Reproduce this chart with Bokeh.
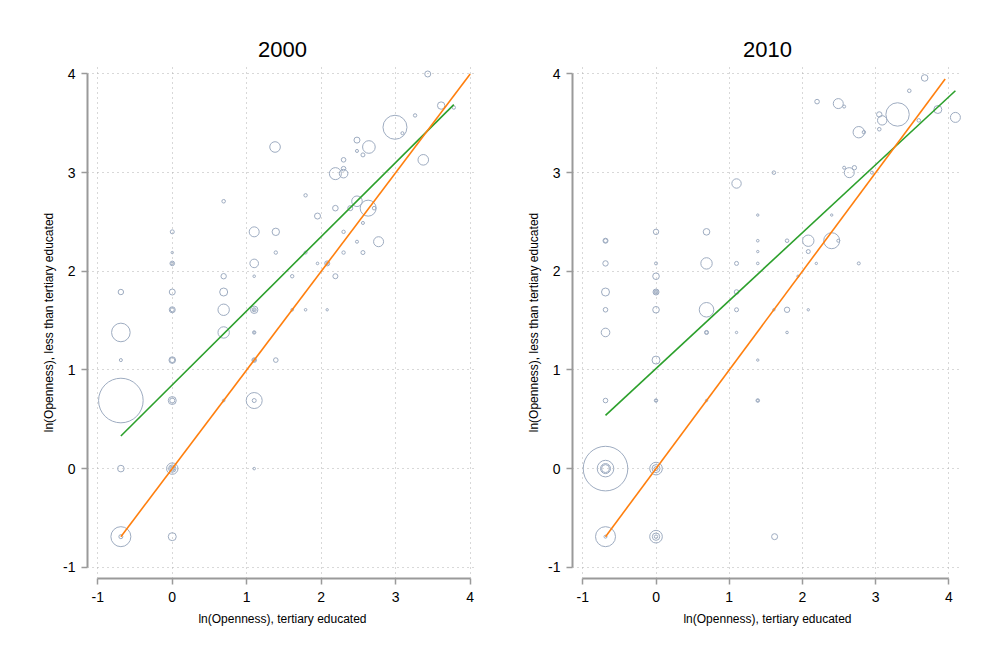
import numpy as np
from bokeh.plotting import figure
from bokeh.layouts import row
from bokeh.models import Range1d, FixedTicker, ColumnDataSource
from bokeh.embed import file_html
from bokeh.resources import INLINE

# ---------------- data: year 2000 ----------------
x_2000 = [3.43, 3.61, 3.78, 3.26, 2.99, 3.09, 3.37, 2.48, 2.48, 2.64,
          2.56, 2.30, 2.30, 2.19, 2.30, 1.38, 1.79, 0.69, 2.48, 2.63,
          2.71, 2.39, 2.19, 1.95, 2.56, 2.30, 2.77, 2.48, 2.56, 2.30,
          1.79, 1.39, 1.10, 1.39, 0.00, 0.00, 0.00, 0.00, 1.10, 1.95,
          2.08, 2.08, 0.69, 1.10, 1.61, 2.19, -0.69, 0.00, 0.69, 0.00,
          0.00, 0.69, 1.10, 1.10, 1.10, 1.61, 1.79, 2.08, -0.69, 0.69,
          1.10, 1.10, -0.69, 0.00, 0.00, 1.10, 1.10, 1.39, -0.69, 0.00,
          0.00, 0.69, 1.10, 1.10, -0.69, 0.00, 0.00, 0.00, 0.00, 1.10,
          -0.69, -0.69, 0.00]
y_2000 = [4.00, 3.68, 3.66, 3.58, 3.46, 3.40, 3.13, 3.33, 3.22, 3.26,
          3.18, 3.13, 3.04, 2.99, 2.99, 3.26, 2.77, 2.71, 2.71, 2.64,
          2.64, 2.64, 2.64, 2.56, 2.49, 2.40, 2.30, 2.30, 2.19, 2.19,
          2.19, 2.19, 2.40, 2.40, 2.40, 2.19, 2.08, 2.08, 2.08, 2.08,
          2.08, 2.08, 1.95, 1.95, 1.95, 1.95, 1.79, 1.79, 1.79, 1.61,
          1.61, 1.61, 1.61, 1.61, 1.61, 1.61, 1.61, 1.61, 1.38, 1.38,
          1.38, 1.38, 1.10, 1.10, 1.10, 1.10, 1.10, 1.10, 0.69, 0.69,
          0.69, 0.69, 0.69, 0.69, 0.00, 0.00, 0.00, 0.00, 0.00, 0.00,
          -0.69, -0.69, -0.69]
w_2000 = [9, 13.7, 2.9, 2.9, 144, 2.3, 28, 9, 2.3, 40,
          4, 5.3, 5.3, 36, 18.5, 28, 2.9, 3.2, 28, 64,
          3.2, 6.3, 7.8, 9, 2.3, 2.9, 25, 2.3, 4, 2.9,
          2.3, 2.9, 25, 13.7, 4, 1.4, 5.3, 1.7, 18.5, 1.7,
          6.3, 1.7, 7.3, 1.7, 2.9, 6.3, 7.3, 9, 16, 9,
          4, 32.5, 13.7, 4, 1, 1.7, 1.7, 1.4, 86.5, 32.5,
          2.9, 1, 2.3, 10.9, 6.3, 5.3, 2.3, 5.3, 497, 16,
          6.3, 1.7, 64, 4, 10.9, 32.5, 13.7, 6.3, 2.3, 1.7,
          100, 4, 16]
fit_x_2000 = [-0.69, 3.78]
fit_y_2000 = [0.33, 3.69]
diag_2000 = [-0.69, 4.00]

# ---------------- data: year 2010 ----------------
x_2010 = [3.67, 3.46, 2.20, 2.49, 2.57, 3.30, 3.05, 3.09, 3.59, 3.85,
          4.09, 2.77, 2.84, 3.05, 2.57, 2.71, 2.64, 2.95, 1.10, 1.61,
          1.39, 2.40, 0.00, 0.69, -0.69, -0.69, 1.39, 1.79, 2.08, 2.40,
          2.49, 1.39, 2.08, -0.69, 0.00, 0.69, 1.10, 1.39, 2.19, 2.77,
          0.00, 1.94, -0.69, 0.00, 0.00, 0.00, 1.10, -0.69, 0.00, 0.69,
          1.10, 1.61, 1.79, 2.08, -0.69, 0.69, 0.69, 1.10, 1.79, 0.00,
          1.39, -0.69, 0.00, 0.00, 0.69, 1.39, 1.39, -0.69, -0.69, -0.69,
          -0.69, 0.00, 0.00, 0.00, -0.69, -0.69, 0.00, 0.00, 0.00, 1.62]
y_2010 = [3.96, 3.83, 3.72, 3.70, 3.67, 3.59, 3.59, 3.53, 3.53, 3.64,
          3.56, 3.41, 3.41, 3.44, 3.05, 3.05, 3.00, 3.00, 2.89, 3.00,
          2.57, 2.57, 2.40, 2.40, 2.31, 2.31, 2.31, 2.31, 2.31, 2.31,
          2.31, 2.20, 2.20, 2.08, 2.08, 2.08, 2.08, 2.08, 2.08, 2.08,
          1.95, 1.95, 1.79, 1.79, 1.79, 1.79, 1.79, 1.61, 1.61, 1.61,
          1.61, 1.61, 1.61, 1.61, 1.38, 1.38, 1.38, 1.38, 1.38, 1.10,
          1.10, 0.69, 0.69, 0.69, 0.69, 0.69, 0.69, 0.00, 0.00, 0.00,
          0.00, 0.00, 0.00, 0.00, -0.69, -0.69, -0.69, -0.69, -0.69, -0.69]
w_2010 = [10.9, 3.2, 5.3, 25, 2.3, 137, 7.3, 22, 3.2, 16,
          25, 32.5, 2.9, 3.2, 2.3, 4.8, 25, 2.3, 22, 3.2,
          1.4, 1.4, 7.3, 10.9, 6.3, 4, 1.7, 3.2, 32.5, 64,
          2.3, 1.4, 4, 7.3, 2.3, 32.5, 4, 1.7, 1.4, 2.3,
          10.9, 1.4, 16, 9, 4, 1.4, 5.3, 5.3, 10.9, 53,
          4, 1.4, 7.3, 1.4, 18.5, 4, 2.3, 1.4, 1.7, 16,
          1.4, 5.3, 2.9, 1.4, 1.4, 3.2, 1.4, 497, 69, 25,
          16, 40, 16, 4, 100, 2.3, 40, 13.7, 2.9, 9]
fit_x_2010 = [-0.69, 4.09]
fit_y_2010 = [0.54, 3.83]
diag_2010 = [-0.69, 3.95]

TICKS = [-1, 0, 1, 2, 3, 4]
TICK_LABELS = {t: str(t) for t in TICKS}
FONT = "Liberation Sans"
BUBBLE = "#9eacc1"
GREEN = "#2ca02c"
ORANGE = "#ff7f0e"


def make_panel(title, xs, ys, ws, fx, fy, diag, xr, left_border):
    p = figure(frame_width=390, frame_height=512,
               x_range=Range1d(*xr), y_range=Range1d(-1.114, 4.076),
               output_backend="svg", toolbar_location=None,
               min_border_left=left_border, min_border_right=15,
               min_border_top=66, min_border_bottom=55,
               background_fill_color="white", border_fill_color="white")
    p.outline_line_color = None
    p.title.text = title
    p.title.align = "center"
    p.title.text_font = FONT
    p.title.text_font_size = "22px"
    p.title.text_font_style = "normal"
    p.title.text_color = "black"
    p.title.standoff = 20

    for ax in (p.xaxis[0], p.yaxis[0]):
        ax.ticker = FixedTicker(ticks=TICKS)
        ax.major_label_overrides = TICK_LABELS
        ax.bounds = (-1, 4)
        ax.axis_line_color = "#9a9a9a"
        ax.axis_line_width = 2
        ax.major_tick_line_color = "#9a9a9a"
        ax.major_tick_line_width = 1.5
        ax.major_tick_out = 6
        ax.major_tick_in = 0
        ax.minor_tick_line_color = None
        ax.major_label_text_font = FONT
        ax.major_label_text_font_size = "14px"
        ax.major_label_text_color = "black"
        ax.axis_label_text_font = FONT
        ax.axis_label_text_font_size = "12px"
        ax.axis_label_text_font_style = "normal"
        ax.axis_label_text_color = "black"
    p.xaxis.major_label_standoff = 7
    p.yaxis.major_label_standoff = 6
    p.xaxis.axis_label_standoff = 7
    p.yaxis.axis_label_standoff = 4
    p.yaxis.major_label_orientation = "horizontal"

    p.xaxis.axis_label = "ln(Openness), tertiary educated"
    p.yaxis.axis_label = "ln(Openness), less than tertiary educated"

    for g in (p.xgrid[0], p.ygrid[0]):
        g.ticker = FixedTicker(ticks=TICKS)
        g.grid_line_color = "#b0b0b0"
        g.grid_line_dash = "1 4"
        g.grid_line_width = 1

    sizes = 2.0 * np.sqrt(np.array(ws, dtype=float))
    src = ColumnDataSource(dict(x=xs, y=ys, s=sizes))
    p.scatter("x", "y", size="s", source=src, marker="circle",
              fill_color=None, line_color=BUBBLE, line_width=1)
    p.line(fx, fy, line_color=GREEN, line_width=1.6)
    p.line(diag, diag, line_color=ORANGE, line_width=1.6)
    return p


p1 = make_panel("2000", x_2000, y_2000, w_2000, fit_x_2000, fit_y_2000,
                diag_2000, (-1.138, 4.098), 87)
p2 = make_panel("2010", x_2010, y_2010, w_2010, fit_x_2010, fit_y_2010,
                diag_2010, (-1.141, 4.187), 80)

layout = row(p1, p2)
open("out.html", "w").write(file_html(layout, INLINE))
